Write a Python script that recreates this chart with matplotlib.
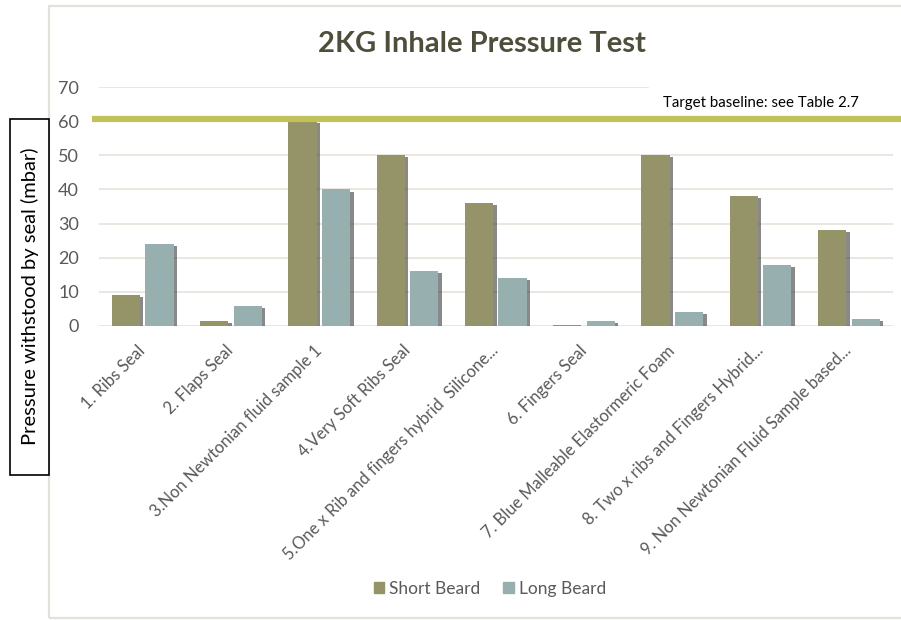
import matplotlib
matplotlib.use("Agg")
import numpy as np
import matplotlib.pyplot as plt
from matplotlib.patches import Rectangle, Patch
import matplotlib.patheffects as pe

# ----------------------- Datos ------------------------
categorias = [
    "1. Ribs Seal",
    "2. Flaps Seal",
    "3.Non Newtonian fluid sample 1",
    "4.Very Soft Ribs Seal",
    "5.One x Rib and fingers hybrid  Silicone...",
    "6. Fingers Seal",
    "7. Blue Malleable Elastormeric Foam",
    "8. Two x ribs and Fingers Hybrid...",
    "9. Non Newtonian Fluid Sample based...",
]
short_beard = [9, 1.5, 60, 50, 36, 0.3, 50, 38, 28]
long_beard = [24, 6, 40, 16, 14, 1.5, 4, 18, 2]
y_ticks = [0, 10, 20, 30, 40, 50, 60, 70]
objetivo = 60.5

# ----------------------- Estilo ------------------------
plt.rcParams["font.family"] = ["Lato", "DejaVu Sans"]
col_short = "#959468"
col_long = "#98afb0"
col_target = "#c2c25a"
col_texto = "#595959"
col_grid = "#e4e4dc"

W, H = 901, 620
fig = plt.figure(figsize=(W / 100, H / 100), dpi=100)
fig.patch.set_facecolor("white")

# marco del gráfico
fig.patches.append(Rectangle((49 / W, 1 - 618 / H), 1.0, (618 - 6) / H,
                             transform=fig.transFigure, fill=False,
                             ec="#e2e2da", lw=1.6, zorder=0))

ax_l, ax_r = 98.5, 893
ax_t, ax_b = 87, 326
ax = fig.add_axes([ax_l / W, 1 - ax_b / H, (ax_r - ax_l) / W, (ax_b - ax_t) / H])
ax.set_facecolor("none")

x = np.arange(len(categorias))
ancho = 0.32
sombra = [pe.SimplePatchShadow(offset=(2.5, -1.5), alpha=0.6, shadow_rgbFace="#3a3a3a"), pe.Normal()]
b1 = ax.bar(x - 0.19, short_beard, ancho, color=col_short, zorder=3)
b2 = ax.bar(x + 0.19, long_beard, ancho, color=col_long, zorder=3)
for b in list(b1) + list(b2):
    b.set_path_effects(sombra)

ax.set_xlim(-0.5, len(categorias) - 0.5)
ax.set_ylim(0, 70)

# líneas de cuadrícula (la de 70 queda tapada por el texto del objetivo)
for v in y_ticks:
    xmax = 0.692 if v == 70 else 1.0
    ax.axhline(v, xmin=0, xmax=xmax, color=col_grid, lw=1.2, zorder=1)

ax.plot([-0.008, 1.03], [objetivo, objetivo], transform=ax.get_yaxis_transform(),
        color=col_target, lw=4.5, clip_on=False, zorder=4, solid_capstyle="butt")
ax.text(0.710, 65.3, "Target baseline: see Table 2.7", transform=ax.get_yaxis_transform(),
        fontsize=10.8, color="black", ha="left", va="center")

for s in ax.spines.values():
    s.set_visible(False)
ax.set_yticks(y_ticks)
ax.tick_params(axis="y", length=0, pad=14, labelsize=13, labelcolor=col_texto)
ax.set_xticks(x)
ax.set_xticklabels(categorias, rotation=45, ha="right", va="center",
                   rotation_mode="anchor", fontsize=11.9, color=col_texto)
ax.tick_params(axis="x", length=0, pad=16)

fig.text(482 / W, 1 - 44 / H, "2KG Inhale Pressure Test", ha="center", va="center",
         fontsize=21, fontweight="bold", color="#4f4e3a")

# etiqueta del eje Y dentro de un recuadro negro
fig.patches.append(Rectangle((10 / W, 1 - 475 / H), 39 / W, (475 - 119) / H,
                             transform=fig.transFigure, fc="white", ec="black",
                             lw=1.2, zorder=5))
fig.text(30 / W, 1 - 296 / H, "Pressure withstood by seal (mbar)", rotation=90,
         ha="center", va="center", fontsize=14.5, color="black", zorder=6)

handles = [Patch(color=col_short), Patch(color=col_long)]
fig.legend(handles=handles, labels=["Short Beard", "Long Beard"], loc="center",
           bbox_to_anchor=(490 / W, 1 - 589 / H), ncol=2, frameon=False,
           fontsize=12.5, labelcolor=col_texto, handlelength=0.6, handleheight=0.6,
           handletextpad=0.3, columnspacing=1.3)

fig.savefig("out.png", dpi=100)
